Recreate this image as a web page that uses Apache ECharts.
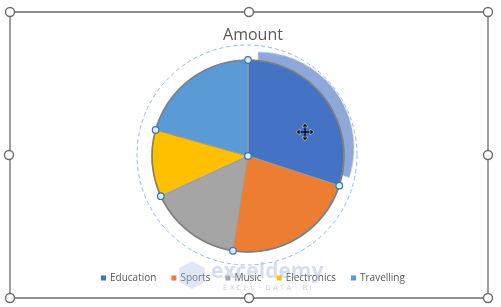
<!DOCTYPE html>
<html><head><meta charset="utf-8">
<script src="https://cdn.jsdelivr.net/npm/echarts@6/dist/echarts.min.js"></script>
<style>html,body{margin:0;padding:0;background:#fff}#c{width:501px;height:307px}</style>
</head><body><div id="c"></div>
<script>
const categories = ['Education', 'Sports', 'Music', 'Electronics', 'Travelling'];
const amounts = [2400, 1800, 1250, 900, 1650];
const colors = ['#4472C4', '#ED7D31', '#A5A5A5', '#FFC000', '#5B9BD5'];
const titleText = 'Amount';

const CX = 248, CY = 156, R = 96;
const chart = echarts.init(document.getElementById('c'));

const total = amounts.reduce((a, b) => a + b, 0);
const handles = [];
let cum = 0;
for (let i = 0; i < amounts.length; i++) {
  const th = cum / total * 2 * Math.PI;
  handles.push([CX + R * Math.sin(th), CY - R * Math.cos(th)]);
  cum += amounts[i];
}
handles.push([CX, CY]);

const frameHandles = [[10,12],[249,12],[488,12],[9,155],[488,155],[10,298],[249,298],[488,298]];

const graphic = [
  { type: 'rect', shape: { x: 10, y: 12, width: 478, height: 286 }, style: { fill: 'none', stroke: '#6b6b6b', lineWidth: 1.3 }, z: 1 },
  { type: 'circle', shape: { cx: CX - 1, cy: CY - 1, r: 110 }, style: { fill: 'none', stroke: '#8DB9E6', lineWidth: 1, lineDash: [4, 3] }, z: 1 },
  { type: 'circle', shape: { cx: CX, cy: CY, r: R }, style: { fill: 'none', stroke: '#7f7f7f', lineWidth: 1.6 }, z: 20 },
  { type: 'polygon', shape: { points: [[179,268],[192,261],[205,268],[205,282],[192,289],[179,282]] }, style: { fill: 'rgba(170,190,225,0.35)' }, z: 30 },
  { type: 'text', style: { x: 211, y: 272, text: 'exceldemy', fontSize: 21, fontWeight: 'bold', fontFamily: 'Open Sans', fill: 'rgba(160,180,225,0.45)', textVerticalAlign: 'middle' }, z: 30 },
  { type: 'text', style: { x: 223, y: 288, text: 'E X C E L  ·  D A T A  ·  B I', fontSize: 7, fontFamily: 'DejaVu Sans', fill: 'rgba(150,150,160,0.45)', textVerticalAlign: 'middle' }, z: 30 },
  { type: 'polyline', shape: { points: [[297,132],[313,132]] }, style: { stroke: '#000', lineWidth: 1.2 }, z: 40 },
  { type: 'polyline', shape: { points: [[305,124],[305,140]] }, style: { stroke: '#000', lineWidth: 1.2 }, z: 40 },
  { type: 'polygon', shape: { points: [[296,132],[300,129],[300,135]] }, style: { fill: '#000', stroke: '#fff', lineWidth: 0.5 }, z: 40 },
  { type: 'polygon', shape: { points: [[314,132],[310,129],[310,135]] }, style: { fill: '#000', stroke: '#fff', lineWidth: 0.5 }, z: 40 },
  { type: 'polygon', shape: { points: [[305,123],[302,127],[308,127]] }, style: { fill: '#000', stroke: '#fff', lineWidth: 0.5 }, z: 40 },
  { type: 'polygon', shape: { points: [[305,141],[302,137],[308,137]] }, style: { fill: '#000', stroke: '#fff', lineWidth: 0.5 }, z: 40 }
];
frameHandles.forEach(p => graphic.push({ type: 'circle', shape: { cx: p[0], cy: p[1], r: 4.5 }, style: { fill: '#fff', stroke: '#6b6b6b', lineWidth: 1.4 }, z: 25 }));
handles.forEach(p => graphic.push({ type: 'circle', shape: { cx: p[0], cy: p[1], r: 3.3 }, style: { fill: '#DDEBF7', stroke: '#2E75B6', lineWidth: 1.2 }, z: 35 }));

const mainData = categories.map((c, i) => ({ name: c, value: amounts[i], itemStyle: { color: colors[i] } }));
const ghostData = categories.map((c, i) => ({
  name: c, value: amounts[i],
  itemStyle: i === 0 ? { color: '#8EA8DA', borderColor: '#C9D8F0', borderWidth: 1, borderType: 'dashed' } : { color: 'rgba(0,0,0,0)', borderWidth: 0 }
}));

chart.setOption({
  animation: false,
  color: colors,
  title: { text: titleText, left: 248, top: 22, textAlign: 'center', textStyle: { fontSize: 16, fontWeight: 'normal', color: '#595959', fontFamily: 'Open Sans' } },
  legend: {
    data: categories.map((c, i) => ({ name: c, itemStyle: { color: colors[i], borderWidth: 0 } })),
    bottom: 19, left: 96, icon: 'rect', itemWidth: 5, itemHeight: 5, itemGap: 15,
    textStyle: { fontSize: 10, color: '#595959', fontFamily: 'Open Sans', padding: [0, 0, 0, -1] }, selectedMode: false
  },
  graphic: graphic,
  series: [
    { type: 'pie', name: titleText, center: [CX, CY], radius: R, startAngle: 90, clockwise: true,
      label: { show: false }, labelLine: { show: false },
      itemStyle: { borderColor: '#9a9a9a', borderWidth: 1 }, data: mainData, z: 2 },
    { type: 'pie', name: 'ghost', silent: true, center: [CX + 10, CY - 8], radius: R, startAngle: 90, clockwise: true,
      label: { show: false }, labelLine: { show: false }, data: ghostData, z: 1, legendHoverLink: false }
  ]
});
</script></body></html>
